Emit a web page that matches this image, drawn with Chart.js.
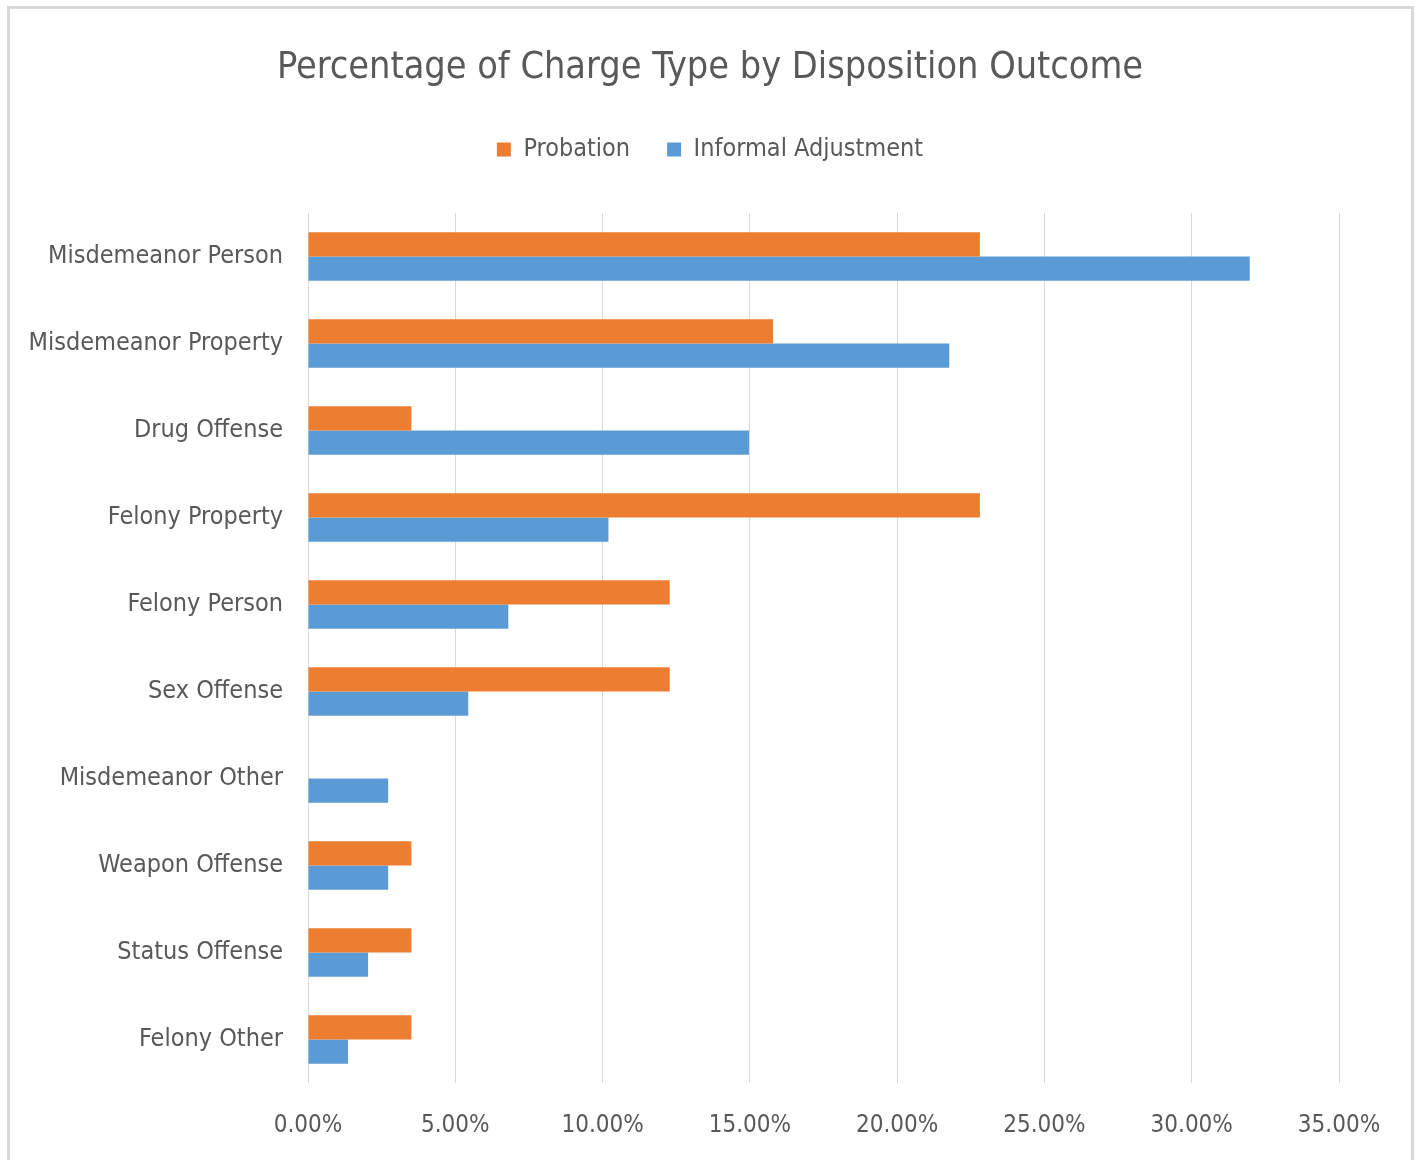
<!DOCTYPE html>
<html>
<head>
<meta charset="utf-8">
<script src="https://cdn.jsdelivr.net/npm/chart.js@4.4.0/dist/chart.umd.min.js"></script>
<style>
  html, body { margin: 0; padding: 0; background: #fff; }
  #wrap { position: relative; width: 1420px; height: 1160px; overflow: hidden; }
  #frame { position: absolute; left: 7px; top: 6px; width: 1401px; height: 1200px; border: 3px solid #d9d9d9; pointer-events: none; }
</style>
</head>
<body>
<div id="wrap">
  <canvas id="chart" width="1420" height="1160"></canvas>
  <div id="frame"></div>
</div>
<script>
// categorias y valores (porcentaje)
const categories = [
    'Misdemeanor Person', 'Misdemeanor Property', 'Drug Offense', 'Felony Property',
    'Felony Person', 'Sex Offense', 'Misdemeanor Other', 'Weapon Offense',
    'Status Offense', 'Felony Other'
];
const probation = [22.81, 15.79, 3.51, 22.81, 12.28, 12.28, 0, 3.51, 3.51, 3.51];
const informalAdjustment = [31.97, 21.77, 14.97, 10.20, 6.80, 5.44, 2.72, 2.72, 2.04, 1.36];
const xTicks = [0, 5, 10, 15, 20, 25, 30, 35];

const FONT = "'Liberation Sans Narrow', 'DejaVu Sans Condensed', sans-serif";
const TEXT = '#595959';
const GRID = '#d9d9d9';

Chart.defaults.font.family = FONT;
Chart.defaults.color = TEXT;

const ctx = document.getElementById('chart');
const chart = new Chart(ctx, {
    type: 'bar',
    data: {
        labels: categories,
        datasets: [{
            label: 'Probation',
            data: probation,
            backgroundColor: '#ED7D31',
            borderWidth: 0
        }, {
            label: 'Informal Adjustment',
            data: informalAdjustment,
            backgroundColor: '#5B9BD5',
            borderWidth: 0
        }]
    },
    options: {
        responsive: false,
        animation: false,
        indexAxis: 'y',
        layout: {
            padding: { left: 8, right: 8, top: 0, bottom: 0 }
        },
        datasets: {
            bar: { categoryPercentage: 0.56, barPercentage: 1 }
        },
        plugins: {
            title: {
                display: true,
                text: 'Percentage of Charge Type by Disposition Outcome',
                color: TEXT,
                font: { size: 37.5, weight: 'normal' },
                padding: { top: 46, bottom: 9 }
            },
            legend: {
                position: 'top',
                labels: {
                    color: TEXT,
                    font: { size: 25 },
                    boxWidth: 14,
                    boxHeight: 14,
                    padding: 37
                }
            },
            tooltip: { enabled: false }
        },
        scales: {
            x: {
                min: 0,
                max: 35,
                afterBuildTicks: (scale) => {
                    scale.ticks = xTicks.map(v => ({ value: v }));
                },
                afterFit: (scale) => { scale.height = 77; },
                ticks: {
                    color: TEXT,
                    font: { size: 24 },
                    padding: 28,
                    maxRotation: 0,
                    callback: (v) => v.toFixed(2) + '%'
                },
                grid: { color: GRID, lineWidth: 1, drawTicks: false },
                border: { display: false }
            },
            // espacio arriba del area del grafico
            xTop: {
                type: 'linear',
                axis: 'x',
                position: 'top',
                afterFit: (scale) => { scale.height = 41; },
                ticks: { display: false },
                grid: { display: false, drawTicks: false },
                border: { display: false }
            },
            y: {
                afterFit: (scale) => { scale.width = 300; },
                ticks: {
                    color: TEXT,
                    font: { size: 25 },
                    padding: 25
                },
                grid: { display: false, drawTicks: false },
                border: { display: false }
            },
            // espacio a la derecha
            yRight: {
                type: 'category',
                axis: 'y',
                position: 'right',
                afterFit: (scale) => { scale.width = 73; },
                ticks: { display: false },
                grid: { display: false, drawTicks: false },
                border: { display: false }
            }
        }
    }
});
</script>
</body>
</html>
